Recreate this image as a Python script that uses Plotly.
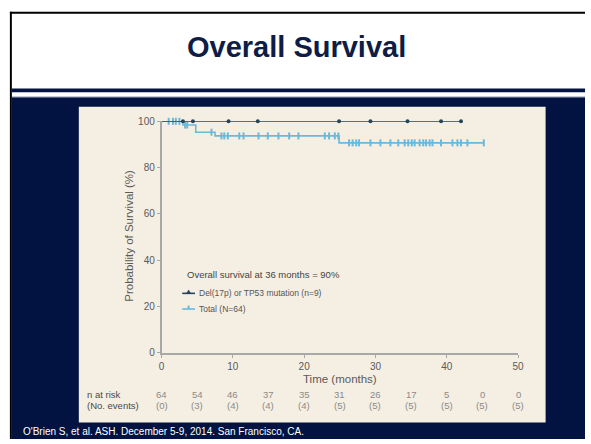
import plotly.graph_objects as go

# ---- data -------------------------------------------------------------
# Total cohort (N=64): Kaplan-Meier steps (time in months, survival %)
total_step_times = [0.0, 3.0, 4.8, 7.5, 24.9, 45.2]
total_step_surv = [100.0, 98.4, 95.3, 93.7, 90.7, 90.7]
total_censor_times = [1.0, 1.6, 2.0, 2.5, 3.3, 3.6, 7.0, 8.4, 8.8, 9.3, 10.9,
                      11.5, 13.6, 14.9, 16.4, 17.9, 19.2, 22.9, 23.5, 24.3,
                      24.8, 26.3, 26.8, 27.3, 27.7, 29.3, 30.7, 32.1, 33.2,
                      34.1, 34.6, 35.1, 35.5, 36.2, 36.7, 37.1, 37.6, 38.0,
                      39.2, 40.8, 41.5, 42.0, 42.9, 45.2]

# Del(17p) or TP53 mutation (n=9): no events
del_step_times = [0.0, 42.0]
del_step_surv = [100.0, 100.0]
del_censor_times = [3.0, 4.4, 9.4, 13.5, 24.9, 29.3, 34.5, 39.2, 42.0]

# Number-at-risk table
risk_times = [0, 5, 10, 15, 20, 25, 30, 35, 40, 45, 50]
n_at_risk = [64, 54, 46, 37, 35, 31, 26, 17, 5, 0, 0]
n_events = [0, 3, 4, 4, 4, 5, 5, 5, 5, 5, 5]

x_ticks = [0, 10, 20, 30, 40, 50]
y_ticks = [0, 20, 40, 60, 80, 100]

title_text = "Overall Survival"
legend_header = "Overall survival at 36 months = 90%"
del_label = "Del(17p) or TP53 mutation (n=9)"
total_label = "Total (N=64)"
x_title = "Time (months)"
y_title = "Probability of Survival (%)"
footnote = "O'Brien S, et al. ASH. December 5-9, 2014. San Francisco, CA."

# ---- styling ------------------------------------------------------------
W, H = 591, 444
NAVY = "#021341"
BEIGE = "#f5eee2"
DARK = "#24455c"
LIGHT = "#6bb9da"
GRAY = "#5a5a5a"
FONT = "Liberation Sans, Arial, sans-serif"


def px(x):
    return x / W


def py(y):
    return 1 - y / H


def surv_at(t, times, surv):
    s = surv[0]
    for tt, ss in zip(times, surv):
        if tt <= t:
            s = ss
    return s


fig = go.Figure()

fig.add_trace(go.Scatter(
    x=total_step_times, y=total_step_surv, mode="lines",
    line=dict(color=LIGHT, width=1.6, shape="hv"), hoverinfo="skip",
    cliponaxis=False))
fig.add_trace(go.Scatter(
    x=total_censor_times,
    y=[surv_at(t, total_step_times, total_step_surv) for t in total_censor_times],
    mode="markers", cliponaxis=False,
    marker=dict(symbol="line-ns-open", size=5, color=LIGHT,
                line=dict(color=LIGHT, width=2))))

fig.add_trace(go.Scatter(
    x=del_step_times, y=del_step_surv, mode="lines",
    line=dict(color=DARK, width=1.6, shape="hv"), cliponaxis=False))
fig.add_trace(go.Scatter(
    x=del_censor_times,
    y=[surv_at(t, del_step_times, del_step_surv) for t in del_censor_times],
    mode="markers", cliponaxis=False,
    marker=dict(symbol="circle", size=4, color=DARK)))

shapes = [
    # slide frame
    dict(type="rect", x0=px(9), x1=1, y0=py(444), y1=py(94.5),
         fillcolor=NAVY, line_width=0),
    dict(type="rect", x0=px(9), x1=1, y0=py(89.3), y1=py(85.5),
         fillcolor=NAVY, line_width=0),
    dict(type="rect", x0=px(9), x1=1, y0=py(94.5), y1=py(93.6),
         fillcolor="#8a93a8", line_width=0),
    dict(type="rect", x0=px(7), x1=px(9), y0=0, y1=py(7),
         fillcolor="#000000", line_width=0),
    dict(type="rect", x0=px(7), x1=1, y0=py(9), y1=py(7),
         fillcolor="#000000", line_width=0),
    # chart panel
    dict(type="rect", x0=px(77), x1=px(551), y0=py(427), y1=py(104),
         fillcolor=BEIGE, line_width=0),
]
for s in shapes:
    s.update(xref="paper", yref="paper", layer="below")

# legend samples
leg_x0, leg_x1 = 182, 195
for yy, col, sym in [(295, DARK, "tri"), (311, LIGHT, "tick")]:
    shapes.append(dict(type="line", xref="paper", yref="paper",
                       x0=px(leg_x0), x1=px(leg_x1), y0=py(yy), y1=py(yy),
                       line=dict(color=col, width=1.6)))
    if sym == "tri":
        shapes.append(dict(type="path", xref="paper", yref="paper",
                           path=f"M {px(186.5)} {py(yy)} L {px(188.5)} {py(yy - 3.5)} "
                                f"L {px(190.5)} {py(yy)} Z",
                           fillcolor=col, line=dict(color=col, width=0.5)))
    else:
        shapes.append(dict(type="rect", xref="paper", yref="paper",
                           x0=px(187.5), x1=px(189.5), y0=py(yy), y1=py(yy - 3.5),
                           fillcolor=col, line_width=0))

annotations = [
    dict(text=f"<b>{title_text}</b>", x=px(298), y=py(43), font=dict(size=29, color="#0d1d45")),
    dict(text=y_title, x=px(128), y=py(236), textangle=-90, font=dict(size=11.5, color=GRAY)),
    dict(text=x_title, x=px(342), y=py(383), font=dict(size=11.5, color=GRAY)),
    dict(text=legend_header, x=px(185), y=py(276), xanchor="left", font=dict(size=9.5, color="#454545")),
    dict(text=del_label, x=px(197), y=py(295), xanchor="left", font=dict(size=8.5, color="#555555")),
    dict(text=total_label, x=px(197), y=py(311), xanchor="left", font=dict(size=8.5, color="#555555")),
    dict(text="n at risk", x=px(83), y=py(398), xanchor="left", font=dict(size=9.5, color="#4a4a4a")),
    dict(text="(No. events)", x=px(83), y=py(410), xanchor="left", font=dict(size=9.5, color="#4a4a4a")),
    dict(text=footnote, x=px(18), y=py(436), xanchor="left", font=dict(size=10, color="#ffffff")),
]
for a in annotations:
    a.setdefault("xanchor", "center")

for t, n, e in zip(risk_times, n_at_risk, n_events):
    annotations.append(dict(text=str(n), x=t, xref="x", y=py(398), yref="paper",
                            font=dict(size=9.5, color="#8a8a8a")))
    annotations.append(dict(text=f"({e})", x=t, xref="x", y=py(410), yref="paper",
                            font=dict(size=9.5, color="#8a8a8a")))

for a in annotations:
    a.setdefault("xref", "paper")
    a.setdefault("yref", "paper")
    a.setdefault("xanchor", "center")
    a["yanchor"] = "middle"
    a["showarrow"] = False

fig.update_layout(
    width=W, height=H, autosize=False,
    margin=dict(l=0, r=0, t=0, b=0),
    paper_bgcolor="#ffffff", plot_bgcolor="rgba(0,0,0,0)",
    showlegend=False,
    font=dict(family=FONT, color=GRAY),
    shapes=shapes, annotations=annotations,
    xaxis=dict(domain=[px(161), px(523)], range=[0, 50], tickvals=x_ticks,
               showgrid=False, zeroline=False, showline=True, linecolor="#a8a8a8",
               linewidth=1.5, ticks="outside", ticklen=3, tickcolor="#a8a8a8",
               tickfont=dict(size=10, color=GRAY), fixedrange=True),
    yaxis=dict(domain=[py(356), py(119)], range=[0, 100], tickvals=y_ticks,
               showgrid=False, zeroline=False, showline=True, linecolor="#a8a8a8",
               linewidth=1.5, ticks="outside", ticklen=3, tickcolor="#a8a8a8",
               tickfont=dict(size=10, color=GRAY), fixedrange=True),
)

fig.write_html("out.html")
